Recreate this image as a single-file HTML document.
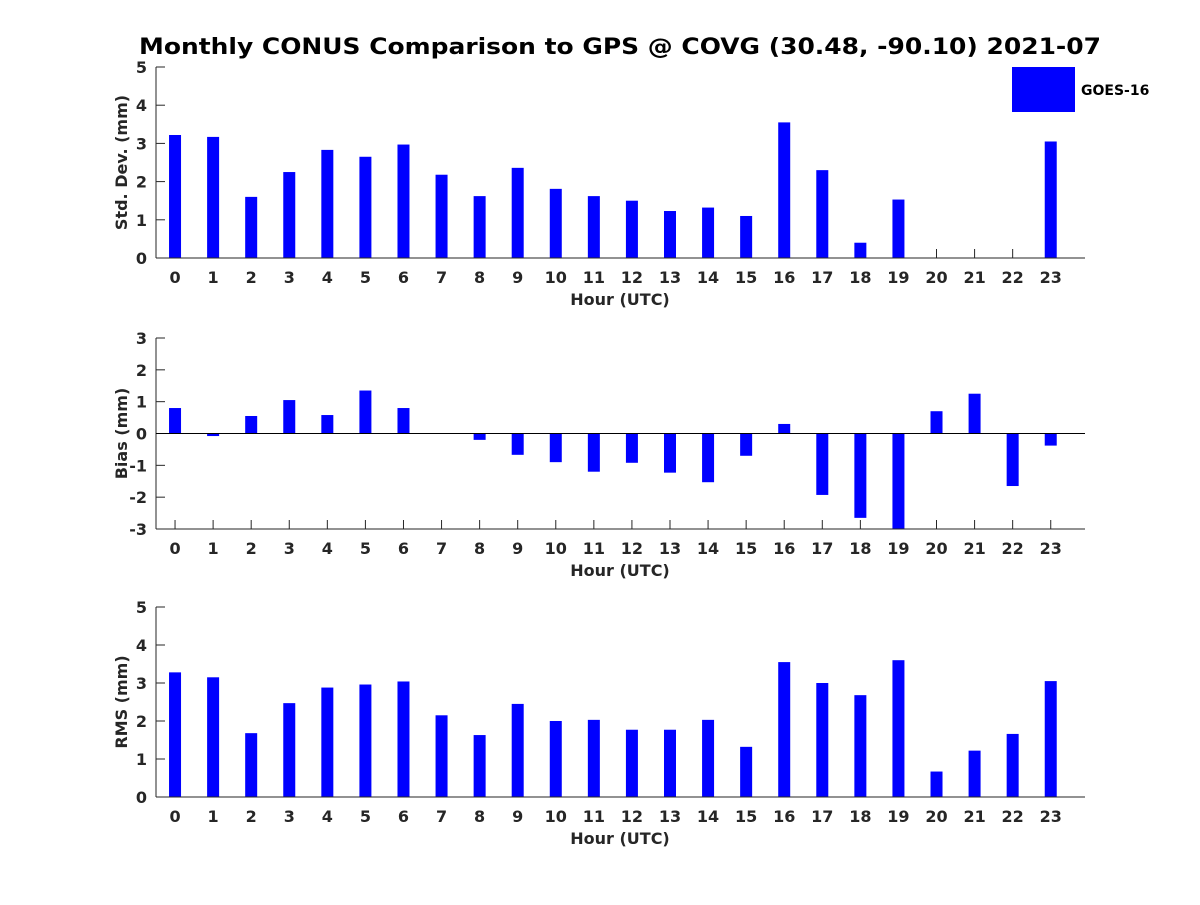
<!DOCTYPE html>
<html><head><meta charset="utf-8"><style>body{margin:0;background:#fff}svg text{font-family:"DejaVu Sans","Liberation Sans",sans-serif;font-weight:bold;fill:#262626}</style></head>
<body>
<svg id="c" width="1200" height="900" xmlns="http://www.w3.org/2000/svg">
<text x="620" y="54" text-anchor="middle" font-size="22" textLength="962" lengthAdjust="spacingAndGlyphs" style="fill:#000">Monthly CONUS Comparison to GPS @ COVG (30.48, -90.10) 2021-07</text>
<rect x="1012" y="67" width="63" height="45" fill="#0000ff"/>
<text x="1081" y="95" font-size="14" style="fill:#000">GOES-16</text>
</svg>
<script>
const hours=[0,1,2,3,4,5,6,7,8,9,10,11,12,13,14,15,16,17,18,19,20,21,22,23];
const stdVals=[3.22,3.17,1.6,2.25,2.83,2.65,2.97,2.18,1.62,2.36,1.81,1.62,1.5,1.23,1.32,1.1,3.55,2.3,0.4,1.53,null,null,null,3.05];
const biasVals=[0.8,-0.08,0.55,1.05,0.58,1.35,0.8,0,-0.2,-0.67,-0.9,-1.2,-0.92,-1.23,-1.53,-0.7,0.3,-1.93,-2.65,-3.0,0.7,1.25,-1.65,-0.38];
const rmsVals=[3.28,3.15,1.68,2.47,2.88,2.96,3.04,2.15,1.63,2.45,2.0,2.03,1.77,1.77,2.03,1.32,3.55,3.0,2.68,3.6,0.67,1.22,1.66,3.05];
const stdTicks=[0,1,2,3,4,5];
const biasTicks=[-3,-2,-1,0,1,2,3];
const rmsTicks=[0,1,2,3,4,5];
const svg=document.getElementById('c');const NS='http://www.w3.org/2000/svg';
function mk(t,a,p){const e=document.createElementNS(NS,t);for(const k in a)e.setAttribute(k,a[k]);p.appendChild(e);return e;}
const L=156,R=1085,X0=-0.5,X1=23.9;
function xs(v){return L+(v-X0)/(X1-X0)*(R-L);}
function panel(name,top,bot,ymin,ymax,vals,ticks,ylabel){
  const g=mk('g',{},svg);
  
  
  const ys=v=>bot-(v-ymin)/(ymax-ymin)*(bot-top);
  hours.forEach(h=>{mk('line',{x1:xs(h),y1:bot,x2:xs(h),y2:bot-9,stroke:'#262626'},g);
    const t=mk('text',{x:xs(h),y:bot+25,'text-anchor':'middle','font-size':16},g);t.textContent=h;
    
    });
  ticks.forEach(v=>{mk('line',{x1:L,y1:ys(v),x2:L+9,y2:ys(v),stroke:'#262626'},g);
    const t=mk('text',{x:L-9,y:ys(v)+6,'text-anchor':'end','font-size':16},g);t.textContent=v;
    
    });
  hours.forEach((h,i)=>{const v=vals[i];if(v===null)return;
    const y1=ys(Math.max(v,0)),y2=ys(Math.min(v,0));
    const b=mk('rect',{x:xs(h)-6,y:Math.min(y1,y2),width:12,height:Math.max(Math.abs(y2-y1),0),fill:'#0000ff'},g);
    
    
  });
  const xa=mk('line',{x1:L,y1:bot,x2:R,y2:bot,stroke:'#262626','stroke-width':1},g);
  
  
  const ya=mk('line',{x1:L,y1:top,x2:L,y2:bot,stroke:'#262626','stroke-width':1},g);
  
  
  if(ymin<0&&ymax>0){const zl=mk('line',{x1:L,y1:ys(0),x2:R,y2:ys(0),stroke:'#000','stroke-width':1},g);
    
    }
  const xl=mk('text',{x:620,y:bot+47,'text-anchor':'middle','font-size':16},g);xl.textContent='Hour (UTC)';
  
  
  const cy=(top+bot)/2;
  const yl=mk('text',{x:127,y:cy,'text-anchor':'middle','font-size':16,transform:`rotate(-90 127 ${cy})`},g);yl.textContent=ylabel;
  
  
}
panel('std-dev',67,258,0,5,stdVals,stdTicks,'Std. Dev. (mm)');
panel('bias',338,529,-3,3,biasVals,biasTicks,'Bias (mm)');
panel('rms',607,797,0,5,rmsVals,rmsTicks,'RMS (mm)');
</script>
</body></html>
